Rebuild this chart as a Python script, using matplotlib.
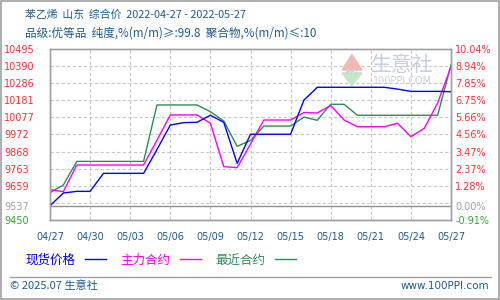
import numpy as np
import matplotlib
matplotlib.use('Agg')
import matplotlib.pyplot as plt
from matplotlib.patches import Polygon, Rectangle

plt.rcParams['font.family'] = ['Noto Sans CJK SC', 'DejaVu Sans']

#%% data, one point per day 04/27 .. 05/27
dates = ['04/27', '04/28', '04/29', '04/30', '05/01', '05/02', '05/03', '05/04',
         '05/05', '05/06', '05/07', '05/08', '05/09', '05/10', '05/11', '05/12',
         '05/13', '05/14', '05/15', '05/16', '05/17', '05/18', '05/19', '05/20',
         '05/21', '05/22', '05/23', '05/24', '05/25', '05/26', '05/27']
spot = [9537, 9615, 9625, 9625, 9735, 9735, 9735, 9735,
        9880, 10030, 10045, 10047, 10090, 10047, 9796, 9974,
        9974, 9974, 9974, 10183, 10261, 10261, 10261, 10261,
        10261, 10261, 10250, 10236, 10236, 10236, 10234]
main = [9636, 9623, 9786, 9786, 9786, 9786, 9786, 9786,
        9937, 10092, 10092, 10092, 10041, 9776, 9770, 9914,
        10061, 10061, 10061, 10107, 10104, 10150, 10061, 10020,
        10020, 10020, 10041, 9959, 10010, 10165, 10387]
near = [9617, 9664, 9808, 9808, 9808, 9808, 9808, 9808,
        10153, 10153, 10153, 10153, 10112, 10055, 9900, 9936,
        10024, 10024, 10024, 10079, 10059, 10157, 10157, 10090,
        10090, 10090, 10090, 10090, 10090, 10090, 10397]

base = 9537
ymin, ymax = 9450, 10495
left_labels = ['9450', '9537', '9659', '9763', '9868', '9972',
               '10077', '10181', '10286', '10390', '10495']
right_labels = ['-0.91%', '0.00%', '1.28%', '2.37%', '3.47%', '4.56%',
                '5.66%', '6.75%', '7.85%', '8.94%', '10.04%']
names = ['现货价格', '主力合约', '最近合约']
colors = ['#0000ff', '#ff00ff', '#2e8b57']

title1 = '苯乙烯  山东  综合价  2022-04-27 - 2022-05-27'
title2 = '品级:优等品  纯度,%(m/m)≥:99.8  聚合物,%(m/m)≤:10'

#%%
fig = plt.figure(figsize=(5, 3), dpi=100)
fig.patch.set_facecolor('white')
ax = fig.add_axes([0.1, 0.2667, 0.802, 0.57])

x = np.arange(len(dates))
step = (ymax - ymin) / 10.0
grid_y = [ymin + k * step for k in range(1, 10)]
for g in grid_y:
    ax.axhline(g, color='#c8c8c8', lw=0.8, ls=(0, (3, 2)), zorder=1)
for xt in x[::3][1:-1]:
    ax.axvline(xt, color='#c8c8c8', lw=0.8, ls=(0, (3, 2)), zorder=1)
ax.axhline(base, color='#909090', lw=1.0, zorder=2)

# watermark
ax.text(0.878, 0.905, '生意社', transform=ax.transAxes, fontsize=15, color='#c9cde0',
        ha='center', va='center', zorder=1)
ax.text(0.878, 0.813, '100PPI.COM', transform=ax.transAxes, fontsize=7, color='#c9cde0',
        ha='center', va='center', family=['DejaVu Sans'], zorder=1)
ax.add_patch(Polygon([[0.728, 0.877], [0.778, 0.877], [0.753, 0.968]], closed=True,
                     transform=ax.transAxes, color='#f4b8b0', zorder=1))
ax.add_patch(Polygon([[0.728, 0.86], [0.778, 0.86], [0.753, 0.785]], closed=True,
                     transform=ax.transAxes, color='#c4e6c4', zorder=1))
ax.text(0.753, 0.865, 'PPI', transform=ax.transAxes, fontsize=5, color='#c9cde0',
        ha='center', va='center', family=['DejaVu Sans'], weight='bold', zorder=1)

ax.plot(x, spot, color=colors[0], lw=1.0, zorder=5)
ax.plot(x, main, color=colors[1], lw=1.0, zorder=4)
ax.plot(x, near, color=colors[2], lw=1.0, zorder=3)

ax.set_xlim(0, len(dates) - 1)
ax.set_ylim(ymin, ymax)
ax.set_xticks(x[::3])
ax.set_xticklabels([dates[i] for i in x[::3]], fontsize=7, color='#1f5c8b',
                   family=['DejaVu Sans'])
ax.tick_params(axis='x', length=0, pad=9)

tick_pos = [ymin, base] + [ymin + k * step for k in range(2, 11)]
ax.set_yticks(tick_pos)
ax.set_yticklabels(left_labels, fontsize=7, family=['DejaVu Sans'], ha='left')
ax.tick_params(axis='y', length=0, pad=33)
lab_colors = ['#33a833', '#a0a0a0'] + ['#ff3333'] * 9
for t, c in zip(ax.get_yticklabels(), lab_colors):
    t.set_color(c)

ax2 = ax.twinx()
ax2.set_ylim(ymin, ymax)
ax2.set_yticks(tick_pos)
ax2.set_yticklabels(right_labels, fontsize=7, family=['DejaVu Sans'])
ax2.tick_params(axis='y', length=0, pad=3)
for t, c in zip(ax2.get_yticklabels(), lab_colors):
    t.set_color(c)

for a in (ax, ax2):
    for s in a.spines.values():
        s.set_color('#a0a0a0')
        s.set_linewidth(1.0)

# titles
fig.text(0.05, 0.95, title1, fontsize=7.8, color='#1f5c8b', va='center', ha='left')
fig.text(0.05, 0.89, title2, fontsize=8.4, color='#1f5c8b', va='center', ha='left')

# legend row
leg_x = [25, 120, 215]
for nm, c, lx in zip(names, colors, leg_x):
    fig.text(lx / 500, 1 - 260 / 300, nm, fontsize=9, color=c, va='center', ha='left')
    fig.add_artist(plt.Line2D([(lx + 60) / 500, (lx + 81) / 500],
                              [1 - 259 / 300, 1 - 259 / 300], color=c, lw=1.0))

# footer
fig.add_artist(plt.Line2D([10 / 500, 491 / 500], [1 - 277 / 300, 1 - 277 / 300],
                          color='#a0a0a0', lw=1.0))
fig.text(10 / 500, 1 - 286 / 300, '© 2025.07 生意社', fontsize=8, color='#1f5c8b',
         va='center', ha='left')
fig.text(489 / 500, 1 - 286 / 300, 'www.100PPI.com', fontsize=7.5, color='#1f5c8b',
         va='center', ha='right', family=['DejaVu Sans'])
fig.add_artist(Rectangle((0.001, 0.002), 0.997, 0.996, transform=fig.transFigure,
                         fill=False, edgecolor='#a0a0a0', lw=1.2))

fig.savefig('out.png', dpi=100)
